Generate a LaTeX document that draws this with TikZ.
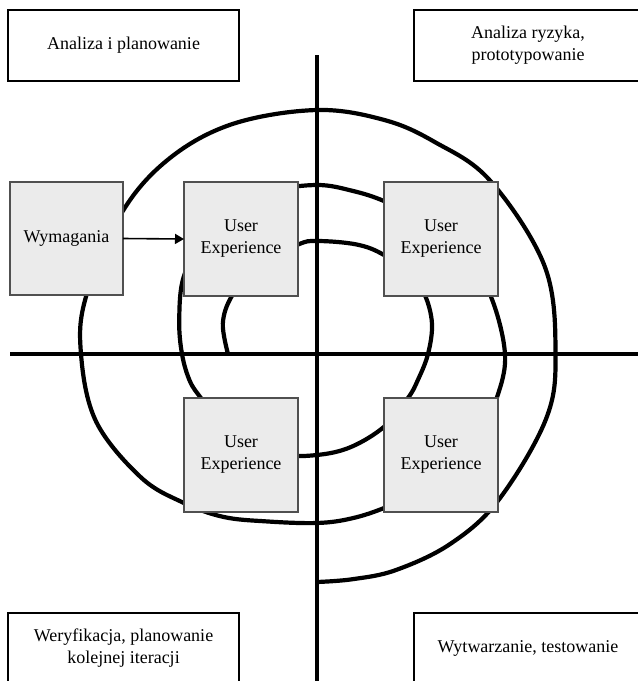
\documentclass[tikz,border=0pt]{standalone}
\usepackage{fontspec}
\setmainfont{Liberation Serif}
\usetikzlibrary{arrows.meta}
\definecolor{boxgray}{HTML}{EBEBEB}
\definecolor{boxline}{HTML}{505050}
\tikzset{
  phasebox/.style={draw=black, line width=1.8pt, fill=white, align=center, inner sep=0pt, outer sep=0pt, font=\fontsize{18}{22}\selectfont},
  stagebox/.style={draw=boxline, line width=1.1pt, fill=boxgray, align=center, inner sep=0pt, outer sep=0pt, minimum width=114pt, minimum height=114pt, font=\fontsize{18}{22}\selectfont},
  axisline/.style={line width=3.6pt, black},
  spiralline/.style={line width=4.2pt, black, line join=round},
  flow/.style={line width=1.6pt, -{Triangle[length=9pt,width=10pt]}}
}
\begin{document}
\begin{tikzpicture}[x=1pt,y=-1pt]
\useasboundingbox (0,0) rectangle (638,681);
\clip (0,0) rectangle (638,681);
% axes
\coordinate (O) at (317,354);
\coordinate (vtop) at (317,55);
\coordinate (vbot) at (317,690);
\coordinate (hleft) at (10,354);
\coordinate (hright) at (645,354);
\draw[axisline] (vtop) -- (vbot);
\draw[axisline] (hleft) -- (hright);
% spiral (polar samples around the axes crossing)
\begin{scope}[shift={(O)}]
\draw[spiralline] plot[smooth, tension=0.6] coordinates {
 (180:89) (198:99) (214:103) (235:107.5) (260:111) (270:113) (290:116.5) (304:119.5)
 (320:122) (331:123) (345:119) (360:111) (375:104) (386:101) (407:99) (430:99)
 (450:101) (470:107) (490:114) (505:119) (519:124) (528:130) (540:135) (554:142)
 (570:154) (585:160) (600:165) (615:168.5) (630:169) (642:167) (654:167) (670:171)
 (685:177) (701:183) (720:188) (734:185) (747:181) (760:176) (773:171) (786:168)
 (798:168) (810:169) (827:175) (840:188) (852:200) (865:215) (883:231) (900:236)
 (914:238) (936:241) (953:245) (970:245) (990:244) (1006:243.5) (1019:242.5) (1035:245)
 (1059:244) (1080:238.5) (1096:238) (1119:233) (1135:232) (1150:230) (1161:228) (1170:228)};
\end{scope}
% phase boxes
\node[phasebox, minimum width=231pt, minimum height=71pt] (plan) at (123.5,45.5) {Analiza i planowanie};
\node[phasebox, minimum width=228pt, minimum height=71pt] (risk) at (528,45.5) {Analiza ryzyka,\\prototypowanie};
\node[phasebox, minimum width=231pt, minimum height=71pt] (verif) at (123.5,648.5) {Weryfikacja, planowanie\\kolejnej iteracji};
\node[phasebox, minimum width=228pt, minimum height=71pt] (build) at (528,648.5) {Wytwarzanie, testowanie};
% stage boxes
\node[stagebox, minimum width=113pt, minimum height=113pt] (wym) at (66.5,238.5) {Wymagania};
\node[stagebox] (ue1) at (241,239) {User\\Experience};
\node[stagebox] (ue2) at (441,239) {User\\Experience};
\node[stagebox] (ue3) at (241,455) {User\\Experience};
\node[stagebox] (ue4) at (441,455) {User\\Experience};
\draw[flow] (wym.east) -- (ue1.west);
\end{tikzpicture}
\end{document}
